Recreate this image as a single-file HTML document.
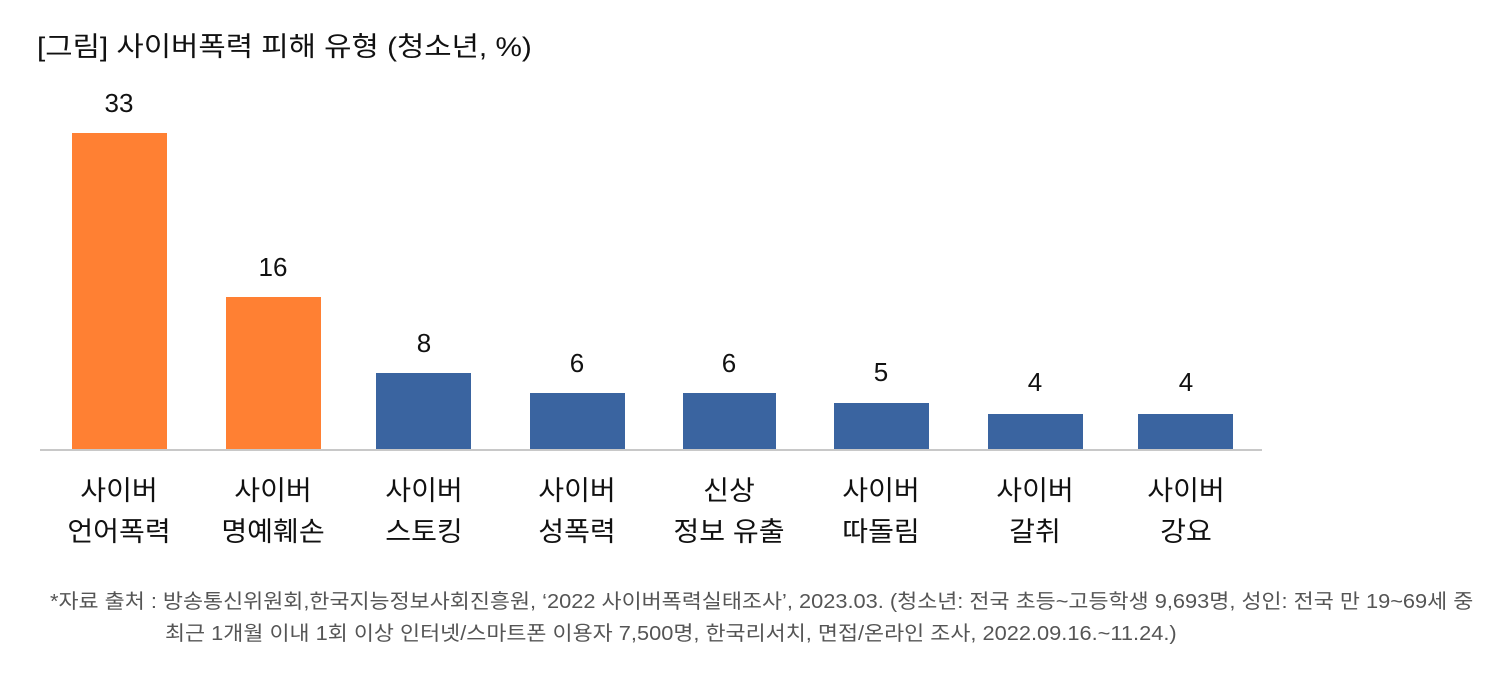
<!DOCTYPE html>
<html><head><meta charset="utf-8"><style>
body{margin:0;width:1502px;height:678px;background:#fff;position:relative;overflow:hidden;font-family:"Liberation Sans","Noto Sans CJK KR",sans-serif;color:#111}
.t{position:absolute;white-space:nowrap}
.bar{position:absolute}
.o{background:#FF8033}.b{background:#3A64A0}
.v{position:absolute;font-size:26px;text-align:center;width:120px}
.c{position:absolute;font-size:27px;text-align:center;width:160px;line-height:41px;top:471px;transform:scaleX(1.04)}
.f{position:absolute;font-size:20px;color:#555;white-space:nowrap;transform:scaleX(1.09);transform-origin:0 0}
</style></head><body>
<div class="t" style="left:37px;top:25px;font-size:27px;transform:scaleX(1.1);transform-origin:0 0">[그림] 사이버폭력 피해 유형 (청소년, %)</div>
<div style="position:absolute;left:40px;top:449px;width:1222px;height:2px;background:#c8c8c8"></div>

<div class="bar o" style="left:72px;width:95px;top:133px;height:316px"></div>
<div class="bar o" style="left:226px;width:95px;top:297px;height:152px"></div>
<div class="bar b" style="left:376px;width:95px;top:373px;height:76px"></div>
<div class="bar b" style="left:530px;width:95px;top:393px;height:56px"></div>
<div class="bar b" style="left:683px;width:93px;top:393px;height:56px"></div>
<div class="bar b" style="left:834px;width:95px;top:403px;height:46px"></div>
<div class="bar b" style="left:988px;width:95px;top:414px;height:35px"></div>
<div class="bar b" style="left:1138px;width:95px;top:414px;height:35px"></div>

<div class="v" style="left:59px;top:88px">33</div>
<div class="v" style="left:213px;top:252px">16</div>
<div class="v" style="left:364px;top:328px">8</div>
<div class="v" style="left:517px;top:348px">6</div>
<div class="v" style="left:669px;top:348px">6</div>
<div class="v" style="left:821px;top:357px">5</div>
<div class="v" style="left:975px;top:367px">4</div>
<div class="v" style="left:1126px;top:367px">4</div>

<div class="c" style="left:39px">사이버<br>언어폭력</div>
<div class="c" style="left:193px">사이버<br>명예훼손</div>
<div class="c" style="left:344px">사이버<br>스토킹</div>
<div class="c" style="left:497px">사이버<br>성폭력</div>
<div class="c" style="left:649px">신상<br>정보 유출</div>
<div class="c" style="left:801px">사이버<br>따돌림</div>
<div class="c" style="left:955px">사이버<br>갈취</div>
<div class="c" style="left:1106px">사이버<br>강요</div>

<div class="f" style="left:50px;top:585px">*자료 출처 : 방송통신위원회,한국지능정보사회진흥원, ‘2022 사이버폭력실태조사’, 2023.03. (청소년: 전국 초등~고등학생 9,693명, 성인: 전국 만 19~69세 중</div>
<div class="f" style="left:165px;top:617px">최근 1개월 이내 1회 이상 인터넷/스마트폰 이용자 7,500명, 한국리서치, 면접/온라인 조사, 2022.09.16.~11.24.)</div>
</body></html>
